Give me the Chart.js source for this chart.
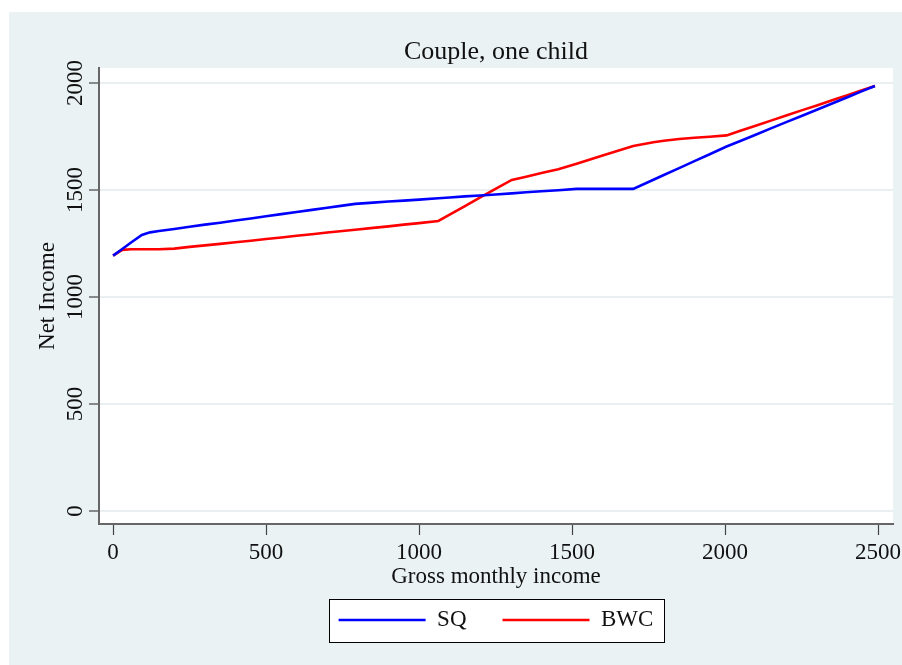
<!DOCTYPE html>
<html>
<head>
<meta charset="utf-8">
<script src="https://cdn.jsdelivr.net/npm/chart.js@4.4.0/dist/chart.umd.min.js"></script>
<style>
  html, body { margin: 0; padding: 0; background: #ffffff; }
  canvas { display: block; }
</style>
</head>
<body>
<canvas id="c" width="902" height="665"></canvas>
<script>
// ---- data ----
const titleText = "Couple, one child";
const xTitle = "Gross monthly income";
const yTitle = "Net Income";
const seriesNames = ["SQ", "BWC"];

const gross = [0, 30, 60, 94, 121, 150, 200, 250, 300, 350, 400, 450, 500, 550, 600, 650, 700, 750, 791,
  850, 900, 950, 1000, 1063, 1100, 1150, 1200, 1250, 1303, 1350, 1400, 1455, 1515, 1600, 1700, 1766,
  1800, 1850, 1900, 1950, 2005, 2050, 2100, 2150, 2200, 2250, 2300, 2350, 2400, 2450, 2490];

const netSQ = [1193, 1224, 1256, 1290, 1302, 1308, 1318, 1328, 1338, 1347, 1357, 1367, 1377, 1387, 1397, 1407, 1417, 1427, 1435,
  1441, 1446, 1450, 1455, 1461, 1465, 1470, 1474, 1479, 1484, 1489, 1494, 1499, 1505, 1505, 1505, 1548,
  1570, 1602, 1635, 1667, 1703, 1729, 1758, 1788, 1817, 1846, 1875, 1904, 1933, 1963, 1986];

const netBWC = [1193, 1220, 1223, 1223, 1223, 1223, 1226, 1234, 1241, 1248, 1256, 1263, 1271, 1278, 1286, 1293, 1301, 1308, 1314,
  1323, 1330, 1338, 1345, 1355, 1385, 1425, 1465, 1505, 1547, 1562, 1579, 1597, 1623, 1661, 1706, 1723,
  1730, 1738, 1744, 1749, 1755, 1777, 1800, 1824, 1848, 1872, 1895, 1919, 1943, 1967, 1986];

const xTicks = [0, 500, 1000, 1500, 2000, 2500];
const yTicks = [0, 500, 1000, 1500, 2000];

// ---- styles ----
const SERIF = "'Liberation Serif', 'Times New Roman', serif";
const BG = '#EAF2F3';

const bgPlugin = {
  id: 'stataBg',
  beforeDraw(chart) {
    const ctx = chart.ctx;
    const {left, top, right, bottom} = chart.chartArea;
    ctx.save();
    ctx.fillStyle = '#ffffff';
    ctx.fillRect(0, 0, chart.width, chart.height);
    ctx.fillStyle = BG;
    ctx.fillRect(9, 12, chart.width - 9, chart.height - 12);
    ctx.fillStyle = '#ffffff';
    ctx.fillRect(left, top, right - left, bottom - top);
    // legend frame
    const lg = chart.legend;
    if (lg && lg.legendHitBoxes && lg.legendHitBoxes.length) {
      const hb = lg.legendHitBoxes;
      const first = hb[0], last = hb[hb.length - 1];
      const bx = Math.round(first.left - 10) + 0.5;
      const by = Math.round(first.top - 10) + 0.5;
      const bw = Math.round(last.left + last.width + 10 - (first.left - 10));
      const bh = Math.round(first.height + 20);
      ctx.fillStyle = '#ffffff';
      ctx.fillRect(bx, by, bw, bh);
      ctx.strokeStyle = '#000000';
      ctx.lineWidth = 1;
      ctx.strokeRect(bx, by, bw, bh);
    }
    ctx.restore();
  }
};

const toPts = (xs, ys) => xs.map((x, i) => ({x: x, y: ys[i]}));
const plain = v => String(v);

new Chart(document.getElementById('c'), {
  type: 'line',
  data: {
    datasets: [
      { label: seriesNames[0], data: toPts(gross, netSQ), borderColor: '#0000FF', backgroundColor: '#0000FF',
        borderWidth: 2.6, pointRadius: 0, tension: 0, pointStyle: 'line' },
      { label: seriesNames[1], data: toPts(gross, netBWC), borderColor: '#FF0000', backgroundColor: '#FF0000',
        borderWidth: 2.6, pointRadius: 0, tension: 0, pointStyle: 'line' }
    ]
  },
  options: {
    responsive: false,
    devicePixelRatio: 1,
    animation: false,
    layout: { padding: { left: 0, right: 9, top: 0, bottom: 23.5 } },
    plugins: {
      tooltip: { enabled: false },
      title: {
        display: true, text: titleText, position: 'top', fullSize: false,
        color: '#111', font: { family: SERIF, size: 26, weight: 'normal', lineHeight: 1.2 },
        padding: { top: 36.4, bottom: 0.4 }
      },
      legend: {
        display: true, position: 'bottom', fullSize: false,
        labels: {
          usePointStyle: true, pointStyleWidth: 87, padding: 36,
          color: '#111', font: { family: SERIF, size: 23 }
        }
      }
    },
    scales: {
      x: {
        type: 'linear', min: -46, max: 2549,
        afterBuildTicks: s => { s.ticks = xTicks.map(v => ({value: v})); },
        afterFit: s => { s.height = 48.5; s.paddingLeft = 0; s.paddingRight = 0; },
        grid: { display: true, drawOnChartArea: false, tickLength: 11, tickColor: '#444', tickWidth: 1.2 },
        border: { display: true, color: '#666', width: 2 },
        ticks: { callback: plain, color: '#111', font: { family: SERIF, size: 23 }, padding: 4.5, maxRotation: 0, autoSkip: false },
        title: { display: true, text: xTitle, color: '#111', font: { family: SERIF, size: 23 }, padding: { top: 0, bottom: -18.3 } }
      },
      y: {
        type: 'linear', min: -61, max: 2070,
        afterBuildTicks: s => { s.ticks = yTicks.map(v => ({value: v})); },
        afterFit: s => { s.width = 99; s.paddingTop = 0; s.paddingBottom = 0; },
        grid: { display: true, drawOnChartArea: true, color: '#EAF0F2', lineWidth: 2, tickLength: 10, tickColor: '#444', tickWidth: 1.2 },
        border: { display: true, color: '#666', width: 2 },
        ticks: { callback: plain, color: '#111', font: { family: SERIF, size: 23 }, padding: -10, minRotation: 90, maxRotation: 90, crossAlign: 'center', autoSkip: false },
        title: { display: true, text: yTitle, color: '#111', font: { family: SERIF, size: 23 }, padding: { top: 33.7, bottom: 0 } }
      }
    }
  },
  plugins: [bgPlugin]
});
</script>
</body>
</html>
